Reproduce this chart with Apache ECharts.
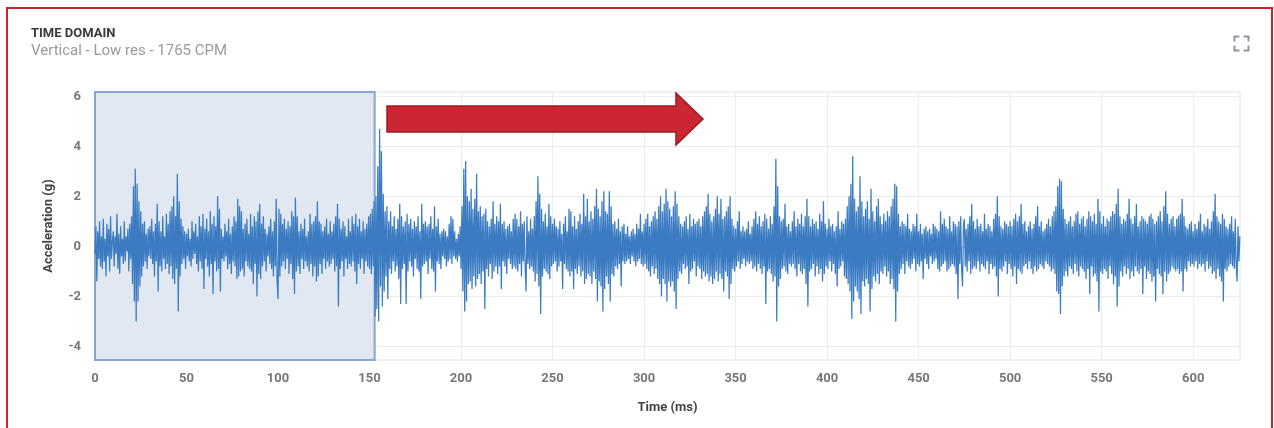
<!DOCTYPE html>
<html>
<head>
<meta charset="utf-8">
<script src="https://cdn.jsdelivr.net/npm/echarts@6/dist/echarts.min.js"></script>
<style>
html,body{margin:0;padding:0;background:#fff;width:1274px;height:428px;overflow:hidden;}
#card{position:absolute;left:6px;top:7px;width:1267px;height:520px;box-sizing:border-box;border:2px solid #cf2330;}
#chart{position:absolute;left:0;top:0;width:1274px;height:428px;}
</style>
</head>
<body>
<div id="card"></div>
<div id="chart"></div>
<script>
// Title texts
const titleText = 'TIME DOMAIN';
const subtitleText = 'Vertical - Low res - 1765 CPM';
const xAxisName = 'Time (ms)';
const yAxisName = 'Acceleration (g)';
// Tick labels
const xTicks = [0, 50, 100, 150, 200, 250, 300, 350, 400, 450, 500, 550, 600];
const yTicks = [-4, -2, 0, 2, 4, 6];
// Axis extents
const xRange = [0, 625.6];
const yRange = [-4.54, 6.17];
// Highlighted (selected) window, ms
const selectionWindow = [0, 152.8];
// Acceleration samples (g), one segment per 10 ms
const segmentStartsMs = [0,10,20,30,40,50,60,70,80,90,100,110,120,130,140,150,160,170,180,190,200,210,220,230,240,250,260,270,280,290,300,310,320,330,340,350,360,370,380,390,400,410,420,430,440,450,460,470,480,490,500,510,520,530,540,550,560,570,580,590,600,610,620];
const segmentLengthMs = [10,10,10,10,10,10,10,10,10,10,10,10,10,10,10,10,10,10,10,10,10,10,10,10,10,10,10,10,10,10,10,10,10,10,10,10,10,10,10,10,10,10,10,10,10,10,10,10,10,10,10,10,10,10,10,10,10,10,10,10,10,10,6];
const accelSegments = [
[-0.3,0.8,-1.4,0.6,-0.5,1.0,-0.8,0.4,-0.9,1.1,-0.6,0.3,-1.2,0.9,-0.4,0.7,-1.0,1.2,-0.5,0.2],
[0.6,-0.8,0.4,-0.3,1.3,-0.9,0.5,-1.1,0.8,-0.4,0.3,-0.7,1.0,-0.6,0.4,-0.2,0.7,-1.0,0.9,-0.5],
[1.2,-1.5,2.4,-2.2,3.1,-3.0,2.5,-2.2,1.8,-1.6,1.4,-1.2,0.9,-0.8,1.0,-0.6,0.5,-0.9,0.7,-0.4],
[0.8,-0.5,1.1,-0.7,0.6,-1.2,0.9,-0.6,1.7,-1.8,1.0,-0.8,0.6,-1.0,1.2,-0.5,0.4,-0.9,1.3,-0.7],
[0.9,-1.1,1.4,-0.8,1.6,-1.3,2.0,-1.5,1.2,-0.9,2.9,-2.6,1.8,-1.2,1.1,-0.7,0.8,-0.5,0.6,-0.9],
[0.5,-0.4,0.7,-0.6,0.3,-0.8,1.0,-0.5,0.6,-0.3,0.9,-0.7,0.4,-1.0,1.2,-0.6,0.8,-0.9,1.3,-1.7],
[0.7,-0.5,1.1,-0.8,0.6,-1.2,1.4,-0.7,0.9,-1.9,1.2,-0.6,0.8,-1.0,2.0,-0.9,1.5,-1.8,0.7,-0.5],
[0.4,-0.6,0.9,-0.4,0.6,-0.9,1.1,-0.7,0.5,-1.1,0.8,-0.6,1.2,-0.8,1.0,-1.3,1.9,-1.2,1.6,-1.0],
[1.4,-0.9,0.7,-1.2,0.9,-0.6,1.1,-0.8,0.5,-0.9,1.3,-1.0,0.8,-1.5,1.2,-0.7,1.0,-2.0,1.4,-1.1],
[1.7,-1.3,0.9,-0.8,1.2,-0.6,0.7,-1.0,0.5,-0.4,0.8,-0.7,1.1,-0.9,0.6,-1.2,1.0,-0.8,1.9,-1.4],
[-2.1,1.5,-1.2,1.3,-0.8,0.9,-0.6,1.1,-0.9,0.7,-0.5,1.0,-1.1,0.8,-0.7,1.4,-1.3,1.2,-1.9,1.95],
[-1.0,1.2,-0.8,0.6,-1.1,0.9,-0.5,0.7,-0.9,1.1,-0.6,0.4,-0.8,0.6,-1.0,1.3,-0.7,0.9,-1.2,1.0],
[-0.8,1.2,-1.4,1.8,-1.2,1.0,-0.7,0.9,-1.1,0.6,-0.5,0.8,-0.9,1.1,-0.6,0.5,-0.8,1.0,-0.7,0.6],
[-0.5,0.9,-1.0,1.2,-0.8,1.7,-2.4,1.1,-0.9,0.7,-0.6,1.0,-1.2,0.8,-0.5,0.4,-0.9,1.1,-0.7,0.6],
[-0.8,1.2,-0.6,0.9,-1.0,1.3,-1.5,0.8,-0.7,1.1,-0.9,0.6,-0.5,1.0,-1.1,0.7,-0.6,0.9,-0.8,1.2],
[-0.9,1.3,-1.1,1.5,-0.8,1.8,-2.8,2.0,-2.5,3.2,-3.0,4.7,-1.6,3.8,-2.4,2.1,-1.8,1.4,-1.2,1.6],
[-2.1,1.0,-0.9,1.4,-1.1,0.8,-0.6,1.2,-1.0,0.7,-0.8,1.1,-1.3,1.7,-2.3,1.2,-0.9,0.8,-0.7,1.0],
[-2.3,1.3,-1.0,0.9,-0.6,1.1,-0.8,0.7,-1.2,1.0,-0.5,0.8,-0.9,1.2,-1.0,0.6,-2.1,1.7,-0.8,0.9],
[-0.7,1.0,-0.6,0.8,-1.1,0.9,-0.5,1.2,-0.9,0.7,-1.0,1.6,-1.8,0.8,-0.6,1.1,-0.7,0.5,-0.9,0.6],
[-0.4,0.7,-0.5,0.6,-0.8,0.4,-0.6,0.9,-0.5,1.2,-0.7,1.1,-0.4,0.6,-0.5,0.3,-0.6,0.5,-0.4,0.8],
[-0.9,1.6,-1.8,3.1,-2.6,3.4,-2.2,2.0,-1.5,1.8,-1.4,2.3,-1.7,1.5,-1.2,1.9,-1.6,2.9,-1.3,1.4],
[-1.1,1.6,-1.5,1.2,-1.0,1.3,-2.5,1.5,-0.9,1.0,-1.2,0.8,-0.7,1.1,-1.3,1.8,-1.0,0.9,-0.8,1.2],
[-1.1,1.0,-0.8,1.7,-1.7,0.9,-0.6,1.0,-0.8,0.7,-1.1,0.8,-0.5,0.9,-0.7,0.6,-0.9,1.1,-0.8,1.3],
[-0.9,1.1,-1.0,0.8,-0.7,1.4,-1.2,0.9,-0.6,1.0,-0.8,-1.8,1.2,-0.7,0.6,-0.9,1.1,-0.8,0.7,-1.0],
[1.2,-1.4,1.8,-1.1,2.8,-1.6,2.1,-2.7,1.5,-1.2,1.0,-0.9,1.3,-1.0,0.8,-1.1,1.7,-1.3,1.2,-0.8],
[0.9,-0.7,1.1,-0.6,0.8,-1.0,0.7,-0.8,1.0,-0.6,0.5,-1.7,0.9,-0.7,1.2,-0.9,0.6,-1.0,1.5,-1.2],
[1.4,-1.0,0.8,-1.7,1.2,-0.9,0.7,-1.1,1.0,-0.8,1.3,-1.2,0.9,-1.0,2.1,-1.5,1.2,-1.3,1.9,-1.1],
[1.0,-1.2,1.4,-1.5,1.1,-1.0,1.6,-1.3,2.3,-2.2,1.5,-1.4,1.2,-1.6,1.8,-2.6,2.2,-1.7,1.4,-1.2],
[1.3,-1.5,2.2,-2.2,1.6,-1.1,0.9,-1.2,1.0,-0.8,0.7,-0.9,1.1,-0.7,0.6,-1.6,0.8,-0.6,0.9,-0.7],
[0.5,-0.6,0.8,-0.5,0.4,-0.7,0.6,-0.4,0.7,-0.6,0.5,-0.8,0.9,-0.6,0.7,-0.5,1.3,-0.7,0.6,-0.8],
[0.9,-0.7,1.1,-0.9,1.3,-1.0,0.8,-1.2,1.0,-0.8,1.2,-1.1,1.4,-0.9,1.1,-1.3,1.6,-1.5,2.0,-2.0],
[1.4,-1.3,1.7,-1.5,2.3,-2.2,1.8,-1.4,1.5,-1.6,1.2,-1.4,1.6,-1.8,2.2,-2.5,1.7,-1.3,1.2,-1.0],
[0.9,-1.1,0.8,-0.7,1.0,-0.9,1.2,-0.8,0.7,-1.5,1.3,-1.0,0.8,-0.9,1.1,-0.6,0.9,-1.2,1.0,-0.8],
[1.1,-0.9,0.8,-1.3,1.2,-1.0,1.4,-1.2,1.6,-1.1,2.1,-1.4,1.3,-1.2,1.0,-1.5,1.2,-1.3,1.5,-1.0],
[2.0,-1.4,1.3,-1.1,1.9,-1.3,1.1,-1.8,1.2,-1.0,1.4,-1.2,1.6,-2.1,2.0,-1.5,1.1,-0.9,0.8,-1.0],
[0.7,-0.8,1.0,-0.6,1.4,-0.9,0.6,-0.7,0.8,-0.5,0.6,-0.8,0.7,-0.6,1.0,-0.7,0.5,-0.6,0.8,-0.9],
[1.1,-0.8,1.4,-1.0,0.9,-0.7,1.2,-0.9,0.8,-1.1,1.0,-0.8,1.3,-2.3,1.1,-1.0,0.7,-0.9,1.2,-1.1],
[0.9,-1.4,1.6,-1.2,3.5,-3.0,2.4,-1.6,1.2,-1.3,1.0,-0.9,1.1,-0.8,1.7,-1.0,0.8,-1.1,0.9,-0.7],
[0.6,-0.8,1.0,-0.7,1.4,-0.9,0.8,-1.2,1.1,-0.7,0.9,-1.0,1.3,-1.1,0.8,-0.9,1.2,-1.5,1.9,-2.4],
[1.2,-1.0,0.8,-0.9,1.1,-0.7,0.9,-1.2,1.0,-0.8,0.7,-1.1,1.3,-0.9,1.0,-1.4,1.8,-1.1,0.9,-0.8],
[0.7,-0.9,1.1,-0.6,0.8,-1.0,0.9,-0.7,0.6,-1.1,0.8,-1.6,1.4,-0.9,0.7,-0.8,1.0,-0.6,0.9,-1.2],
[1.1,-1.3,1.6,-1.5,2.0,-1.8,2.5,-2.9,3.6,-2.2,1.9,-1.6,1.4,-1.8,1.6,-2.1,2.8,-2.7,1.8,-1.4],
[1.2,-1.6,1.5,-1.3,1.8,-1.5,1.1,-2.6,2.3,-1.7,1.4,-1.2,1.0,-1.4,1.6,-1.1,1.9,-1.5,1.2,-1.0],
[0.9,-1.1,1.3,-0.8,1.0,-1.2,1.4,-1.0,1.2,-1.5,1.6,-1.3,1.9,-1.7,2.5,-3.0,2.4,-1.8,1.3,-1.1],
[0.8,-0.9,1.0,-0.7,0.9,-1.1,0.8,-0.6,1.3,-0.8,0.7,-0.9,0.6,-0.7,0.9,-0.5,0.8,-1.0,1.3,-0.7],
[0.6,-0.8,0.9,-0.6,0.5,-1.3,0.7,-0.5,0.8,-0.7,0.6,-0.9,0.7,-0.4,0.5,-0.7,0.9,-0.6,0.8,-0.5],
[0.7,-0.9,0.6,-1.0,1.4,-0.8,0.9,-0.7,1.1,-0.6,0.8,-1.0,0.7,-0.9,1.2,-0.8,0.6,-0.7,1.0,-0.8],
[0.9,-1.1,0.8,-2.1,1.0,-0.7,1.2,-0.9,-1.6,0.8,1.1,-0.8,0.7,-1.0,0.9,-0.6,1.2,-1.1,1.7,-0.9],
[1.0,-0.8,0.7,-0.9,1.1,-0.6,0.8,-1.0,0.9,-0.7,0.6,-0.8,1.3,-0.9,0.7,-0.6,0.9,-1.1,0.8,-0.7],
[0.6,-0.9,1.1,-0.8,1.3,-1.2,2.0,-2.0,1.2,-0.9,0.8,-1.0,0.7,-0.8,1.0,-0.6,0.9,-1.1,0.8,-0.7],
[1.0,-0.9,0.8,-1.2,1.1,-0.8,1.3,-1.5,1.0,-0.9,1.2,-1.0,1.7,-1.1,0.9,-0.8,1.0,-0.7,0.6,-0.9],
[0.8,-0.6,1.0,-0.9,0.7,-1.1,0.9,-0.8,1.2,-1.0,1.6,-0.9,0.8,-0.7,1.0,-0.8,0.6,-0.9,0.7,-0.6],
[0.9,-0.7,1.1,-0.8,0.8,-1.0,1.2,-0.9,1.4,-1.1,1.6,-1.8,2.4,-1.9,2.7,-2.7,2.6,-1.6,1.5,-1.2],
[1.1,-1.0,0.9,-1.2,1.0,-0.8,1.2,-0.9,0.8,-1.1,1.0,-0.7,1.3,-1.0,1.4,-1.2,0.9,-0.8,1.1,-0.9],
[1.2,-1.0,0.8,-1.3,1.1,-0.9,1.4,-1.9,1.2,-0.8,1.0,-1.2,1.3,-1.1,0.9,-1.4,1.9,-2.6,1.4,-1.0],
[0.9,-1.1,1.2,-0.9,0.8,-1.0,1.1,-1.3,1.0,-0.8,1.2,-1.1,1.4,-1.5,1.3,-1.2,1.7,-2.4,2.3,-1.6],
[1.2,-1.0,0.9,-1.2,1.1,-0.8,1.0,-1.1,1.3,-0.9,1.9,-1.3,1.1,-1.0,0.9,-1.2,1.2,-0.8,1.7,-1.0],
[0.8,-1.1,1.0,-0.9,1.2,-1.9,1.1,-0.8,1.0,-1.3,0.9,-1.0,1.2,-1.1,1.3,-1.4,1.1,-1.2,0.9,-2.2],
[1.0,-0.9,1.2,-1.1,1.4,-1.2,1.0,-1.9,1.6,-1.0,2.2,-1.4,1.3,-1.1,0.9,-1.0,1.1,-0.8,1.2,-0.9],
[0.8,-1.0,1.1,-0.9,1.2,-1.1,1.3,-1.0,1.9,-1.8,1.2,-0.9,0.8,-1.0,0.7,-0.6,0.9,-0.8,1.0,-0.7],
[0.6,-0.8,0.9,-0.6,0.7,-0.9,1.0,-0.7,1.3,-0.8,0.6,-0.7,0.9,-1.0,0.8,-0.6,1.1,-0.9,0.7,-0.8],
[1.0,-1.1,1.4,-1.0,2.1,-1.3,1.2,-0.9,1.0,-1.2,0.9,-1.4,1.3,-2.2,1.1,-0.9,0.8,-1.0,0.7,-0.8],
[0.9,-0.7,1.2,-0.8,0.6,-0.9,1.1,-0.7,-1.4,0.8,-0.6,0.4]
];

const seriesData = [];
accelSegments.forEach(function (seg, s) {
  const step = segmentLengthMs[s] / seg.length;
  seg.forEach(function (v, j) {
    seriesData.push([segmentStartsMs[s] + j * step, v]);
  });
});

const chart = echarts.init(document.getElementById('chart'), null, {renderer: 'canvas'});
const FONT = 'Roboto, "Noto Sans", sans-serif';

chart.setOption({
  animation: false,
  backgroundColor: 'transparent',
  textStyle: {fontFamily: FONT},
  title: {
    text: titleText,
    subtext: subtitleText,
    left: 31,
    top: 27,
    itemGap: 4,
    padding: 0,
    textStyle: {fontSize: 13, fontWeight: 'bold', color: '#3a3a3a', fontFamily: FONT},
    subtextStyle: {fontSize: 15, color: '#9a9a9a', fontFamily: FONT}
  },
  grid: {
    left: 95, right: 34, top: 92, bottom: 68,
    show: true, borderColor: '#e2e2e2', borderWidth: 1
  },
  xAxis: {
    type: 'value',
    min: xRange[0], max: xRange[1],
    name: xAxisName,
    nameLocation: 'middle',
    nameGap: 41,
    nameTextStyle: {fontSize: 13, fontWeight: 'bold', color: '#444', fontFamily: FONT},
    axisLine: {show: true, lineStyle: {color: '#e2e2e2', width: 2}},
    axisTick: {show: false, customValues: xTicks},
    axisLabel: {customValues: xTicks, color: '#777', fontSize: 13, fontWeight: 'bold', margin: 12, fontFamily: FONT},
    splitLine: {show: true, lineStyle: {color: '#ececec', width: 1}}
  },
  yAxis: {
    type: 'value',
    min: yRange[0], max: yRange[1],
    name: yAxisName,
    nameLocation: 'middle',
    nameGap: 40,
    nameTextStyle: {fontSize: 13, fontWeight: 'bold', color: '#444', fontFamily: FONT},
    axisLine: {show: false},
    axisTick: {show: false, customValues: yTicks},
    axisLabel: {customValues: yTicks, color: '#777', fontSize: 13, fontWeight: 'bold', margin: 14, fontFamily: FONT},
    splitLine: {show: true, lineStyle: {color: '#ececec', width: 1}}
  },
  series: [
    {
      type: 'line',
      name: 'selection',
      data: [],
      z: 1,
      silent: true,
      markArea: {
        silent: true,
        itemStyle: {color: '#e1e8f2', borderColor: '#86a7d1', borderWidth: 2},
        data: [[{xAxis: selectionWindow[0]}, {xAxis: selectionWindow[1]}]]
      }
    },
    {
      type: 'line',
      name: 'Acceleration',
      data: seriesData,
      z: 3,
      showSymbol: false,
      symbol: 'none',
      sampling: null,
      lineStyle: {color: '#3a7bc1', width: 1.25},
      itemStyle: {color: '#3a7bc1'}
    }
  ],
  graphic: [
    {
      type: 'polygon',
      z: 100,
      shape: {points: [[387,106],[676,106],[676,93],[703,119],[676,145],[676,132],[387,132]]},
      style: {fill: '#cc2632', stroke: '#9a1b24', lineWidth: 1.5}
    },
    {
      type: 'group',
      left: 1232, top: 34,
      children: [
        {type: 'polyline', shape: {points: [[0,5],[0,0],[5,0]]}, style: {stroke: '#8e96a3', lineWidth: 2, fill: null}},
        {type: 'polyline', shape: {points: [[9,0],[14,0],[14,5]]}, style: {stroke: '#8e96a3', lineWidth: 2, fill: null}},
        {type: 'polyline', shape: {points: [[0,9],[0,14],[5,14]]}, style: {stroke: '#8e96a3', lineWidth: 2, fill: null}},
        {type: 'polyline', shape: {points: [[9,14],[14,14],[14,9]]}, style: {stroke: '#8e96a3', lineWidth: 2, fill: null}}
      ]
    }
  ]
});
</script>
</body>
</html>
